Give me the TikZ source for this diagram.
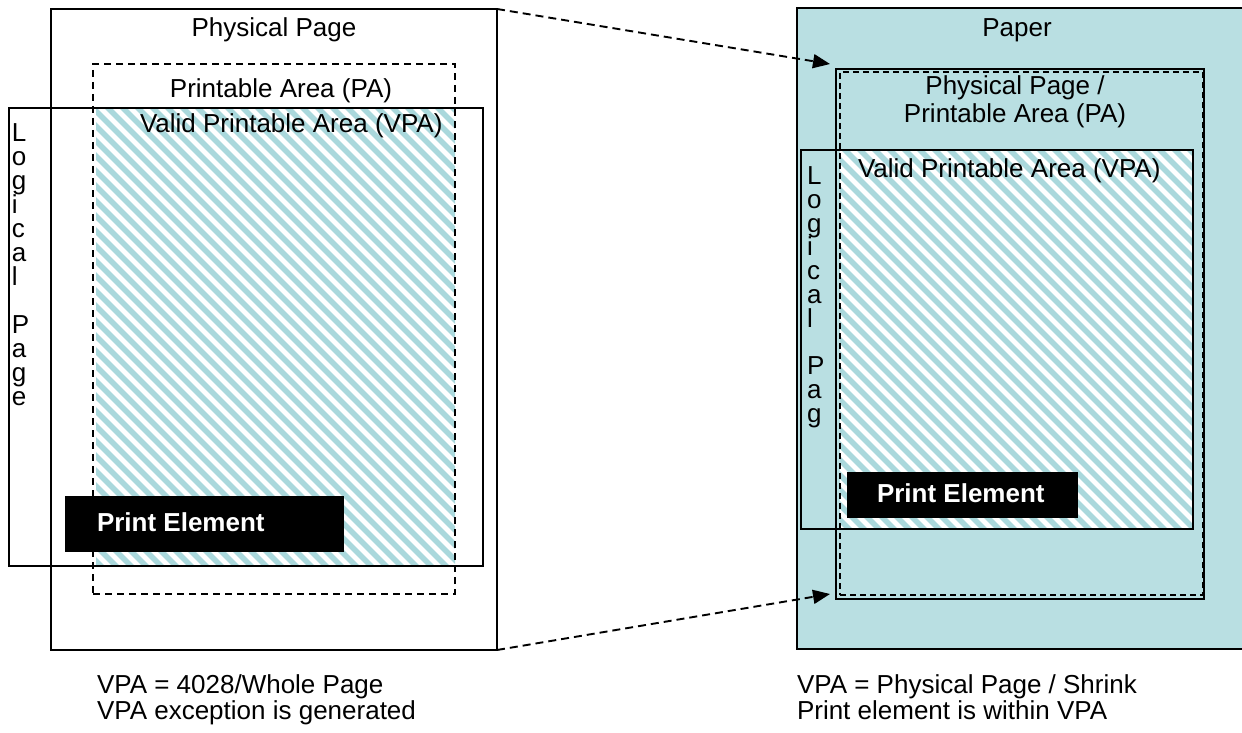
\documentclass[tikz,border=0pt]{standalone}
\usepackage{fontspec}
\setmainfont{Liberation Sans}
\usetikzlibrary{arrows.meta}
\definecolor{paperc}{RGB}{185,223,226}
\definecolor{hatchc}{RGB}{170,216,220}
\begin{document}
\begin{tikzpicture}[x=1pt,y=-1pt,
  every node/.style={inner sep=0pt,outer sep=0pt},
  lbl/.style={font=\fontsize{26}{26}\selectfont},
  pelbl/.style={font=\fontsize{26}{26}\selectfont\bfseries,text=white},
  solidbox/.style={draw=black,line width=2pt,anchor=north west},
  dashbox/.style={draw=black,line width=1.8pt,dash pattern=on 7pt off 5pt,anchor=north west},
  pebox/.style={fill=black,anchor=north west},
  hatchline/.style={draw=hatchc,line width=5.5pt},
  linkarrow/.style={draw=black,line width=1.9pt,dash pattern=on 8pt off 5pt,-{Triangle[length=17pt,width=14pt]}}
]
\useasboundingbox (0,0) rectangle (1242,733);

% ---------------- left diagram ----------------
\node[solidbox,fill=white,minimum width=446pt,minimum height=641pt] (pp) at (51,9) {};
\begin{scope}
  \clip (96,109) rectangle (455,566);
  \fill[white] (96,109) rectangle (455,566);
  \foreach \c in {-380,-365,...,460} \draw[hatchline] (\c,100) -- ++(500,500);
\end{scope}
\node[dashbox,minimum width=362pt,minimum height=530pt] (pa) at (93,64) {};
\node[solidbox,minimum width=474pt,minimum height=458pt] (lp) at (9,108) {};
\node[pebox,minimum width=279pt,minimum height=56pt] (pe) at (65,496) {};

\node[lbl,anchor=base] (pptxt) at (274,37) {Physical Page};
\node[lbl,anchor=base] (patxt) at (281,98) {Printable Area (PA)};
\node[lbl,anchor=base west] (vpatxt) at (140,133) {Valid Printable Area (VPA)};
\node[pelbl,anchor=base west] (petxt) at (97,531) {Print Element};
\foreach \ch/\k in {L/0,o/1,g/2,i/3,c/4,a/5,l/6,P/8,a/9,g/10,e/11}
  \node[lbl,anchor=base west] (lpl\k) at (12,{141.5+24*\k}) {\ch};

% ---------------- right diagram ----------------
\node[solidbox,fill=paperc,minimum width=460pt,minimum height=641pt] (paper) at (797,8) {};
\node[solidbox,minimum width=392pt,minimum height=379pt] (rlp) at (801,150) {};
\begin{scope}
  \clip (840,151) rectangle (1193,529);
  \fill[white] (840,151) rectangle (1193,529);
  \foreach \c in {430,445,...,1200} \draw[hatchline] (\c,140) -- ++(400,400);
\end{scope}
\node[solidbox,minimum width=368pt,minimum height=530pt] (rpp) at (836,69) {};
\node[dashbox,line width=1.5pt,dash pattern=on 6pt off 4pt,minimum width=363pt,minimum height=523pt] (rpa) at (840,72) {};
\node[solidbox,minimum width=392pt,minimum height=379pt] (rlp2) at (801,150) {};
\node[pebox,minimum width=231pt,minimum height=46pt] (rpe) at (847,472) {};

\node[lbl,anchor=base] (papertxt) at (1017,37) {Paper};
\node[lbl,anchor=base] (rpptxt) at (1015,95) {Physical Page /};
\node[lbl,anchor=base] (rpatxt) at (1015,123) {Printable Area (PA)};
\node[lbl,anchor=base west] (rvpatxt) at (858,177) {Valid Printable Area (VPA)};
\node[pelbl,anchor=base west] (rpetxt) at (877,502) {Print Element};
\foreach \ch/\k in {L/0,o/1,g/2,i/3,c/4,a/5,l/6,P/8,a/9,g/10}
  \node[lbl,anchor=base west] (rlpl\k) at (807,{184.5+23.75*\k}) {\ch};

% ---------------- connectors ----------------
\coordinate (tipA) at ([shift={(-6,-5)}]rpp.north west);
\coordinate (tipB) at ([shift={(-6,-5)}]rpp.south west);
\draw[linkarrow] (pp.north east) -- (tipA);
\draw[linkarrow] (pp.south east) -- (tipB);

% ---------------- captions ----------------
\node[lbl,anchor=base west] (capl1) at (97,693) {VPA = 4028/Whole Page};
\node[lbl,anchor=base west] (capl2) at (97,719) {VPA exception is generated};
\node[lbl,anchor=base west] (capr1) at (797,693) {VPA = Physical Page / Shrink};
\node[lbl,anchor=base west] (capr2) at (797,719) {Print element is within VPA};
\end{tikzpicture}
\end{document}
